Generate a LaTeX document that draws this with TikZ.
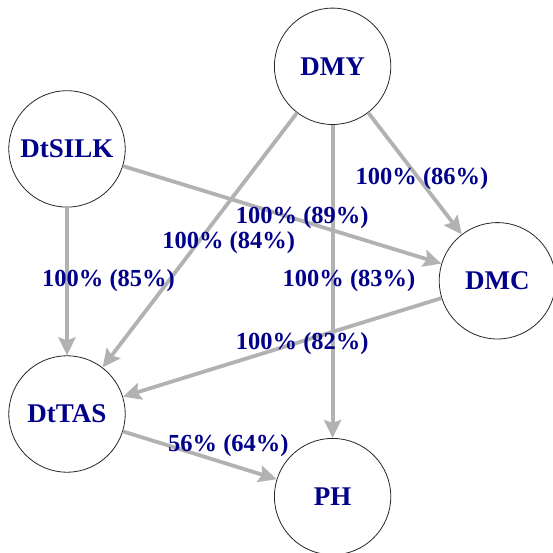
\documentclass[tikz,border=0pt]{standalone}
\usepackage{fontspec}
\setmainfont{Liberation Serif}
\usetikzlibrary{arrows.meta}
\definecolor{lblue}{RGB}{0,0,139}
\definecolor{egray}{RGB}{178,178,178}
\tikzset{
  vnode/.style={circle, draw=black!85, line width=0.8pt, fill=white, minimum size=116.4pt, inner sep=0pt,
    text=lblue, font=\fontsize{27}{32}\selectfont\bfseries},
  edge/.style={draw=egray, line width=3.8pt, -{Stealth[length=18pt,width=17pt,inset=3pt]}},
  elabel/.style={text=lblue, inner sep=0pt, font=\fontsize{24.5}{29}\selectfont\bfseries}
}
\begin{document}
\begin{tikzpicture}[x=1pt,y=-1pt]
\useasboundingbox (0,0) rectangle (553,553);
\node[vnode] (DMY) at (332.6,66.3) {DMY};
\node[vnode] (DtSILK) at (67,148.9) {DtSILK};
\node[vnode] (DMC) at (497.4,280.8) {DMC};
\node[vnode] (DtTAS) at (67,414) {DtTAS};
\node[vnode] (PH) at (332.6,496.6) {PH};
\draw[edge] (DMY) -- (DtTAS);
\draw[edge] (DMY) -- (DMC);
\draw[edge] (DMY) -- (PH);
\draw[edge] (DtSILK) -- (DMC);
\draw[edge] (DtSILK) -- (DtTAS);
\draw[edge] (DMC) -- (DtTAS);
\draw[edge] (DtTAS) -- (PH);
\node[elabel] (l1) at (422,179) {100\% (86\%)};
\node[elabel] (l2) at (302.3,217.6) {100\% (89\%)};
\node[elabel] (l3) at (228.7,242.7) {100\% (84\%)};
\node[elabel] (l4) at (108.5,280.8) {100\% (85\%)};
\node[elabel] (l5) at (349,280.8) {100\% (83\%)};
\node[elabel] (l6) at (302.3,344) {100\% (82\%)};
\node[elabel] (l7) at (228.4,446) {56\% (64\%)};
\end{tikzpicture}
\end{document}
